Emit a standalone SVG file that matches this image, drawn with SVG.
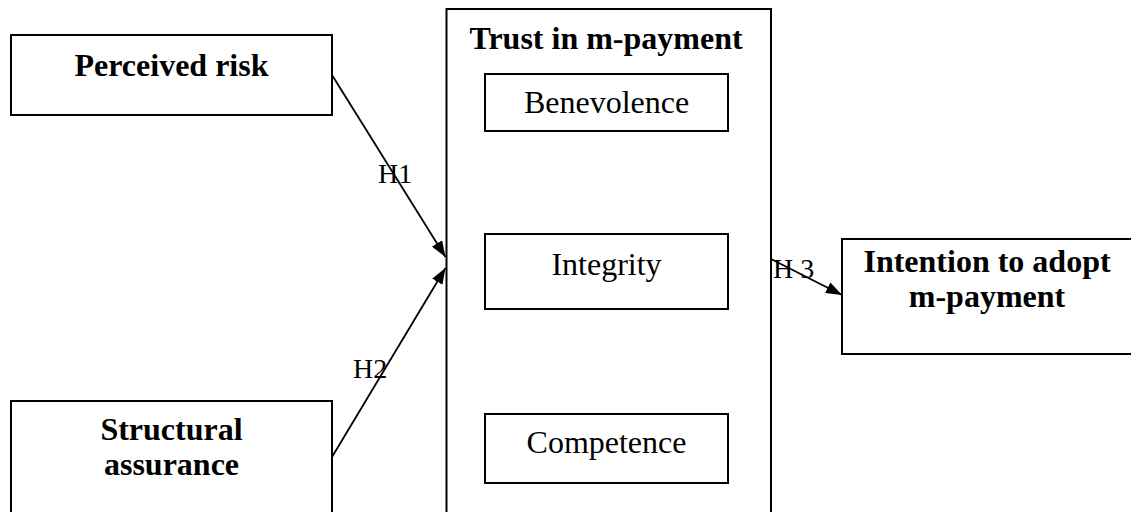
<svg xmlns="http://www.w3.org/2000/svg" width="1131" height="512" viewBox="0 0 1131 512">
<style>
.box{fill:#fff;stroke:#000;stroke-width:2}
.b{font-family:"Liberation Serif","Times New Roman",serif;font-weight:bold;font-size:32px;text-anchor:middle;fill:#000}
.r{font-family:"Liberation Serif","Times New Roman",serif;font-size:32px;text-anchor:middle;fill:#000}
.h{font-family:"Liberation Serif","Times New Roman",serif;font-size:28px;fill:#000}
.c{stroke:#000;stroke-width:1.8;fill:none;marker-end:url(#arr)}
</style>
<defs>
<marker id="arr" viewBox="0 0 10 10" refX="10" refY="5" markerWidth="16" markerHeight="12" markerUnits="userSpaceOnUse" orient="auto" preserveAspectRatio="none">
<path d="M0,0 L10,5 L0,10 z" fill="#000"/>
</marker>
</defs>
<rect width="1131" height="512" fill="#fff"/>
<g id="perceived-risk">
<rect class="box" x="11" y="35" width="321" height="80"/>
<text class="b" x="171.5" y="76">Perceived risk</text>
</g>
<g id="structural-assurance">
<rect class="box" x="11" y="401" width="321" height="130"/>
<text class="b" x="171.5" y="440">Structural</text>
<text class="b" x="171.5" y="475">assurance</text>
</g>
<g id="trust">
<rect class="box" x="446.5" y="9" width="324.5" height="520"/>
<text class="b" x="606" y="49">Trust in m-payment</text>
</g>
<g id="benevolence">
<rect class="box" x="485" y="74" width="243" height="57"/>
<text class="r" x="606.5" y="113">Benevolence</text>
</g>
<g id="integrity">
<rect class="box" x="485" y="234" width="243" height="75"/>
<text class="r" x="606.5" y="275">Integrity</text>
</g>
<g id="competence">
<rect class="box" x="485" y="414" width="243" height="69"/>
<text class="r" x="606.5" y="453">Competence</text>
</g>
<g id="intention">
<rect class="box" x="842" y="239" width="300" height="115"/>
<text class="b" x="987" y="272">Intention to adopt</text>
<text class="b" x="987" y="307">m-payment</text>
</g>
<g id="connectors">
<line class="c" x1="332" y1="75" x2="445.5" y2="257"/>
<line class="c" x1="332" y1="457" x2="445.5" y2="268"/>
<line class="c" x1="771" y1="259" x2="842" y2="295"/>
<text class="h" x="378" y="183">H1</text>
<text class="h" x="353" y="378">H2</text>
<text class="h" x="773" y="278">H 3</text>
</g>
</svg>
